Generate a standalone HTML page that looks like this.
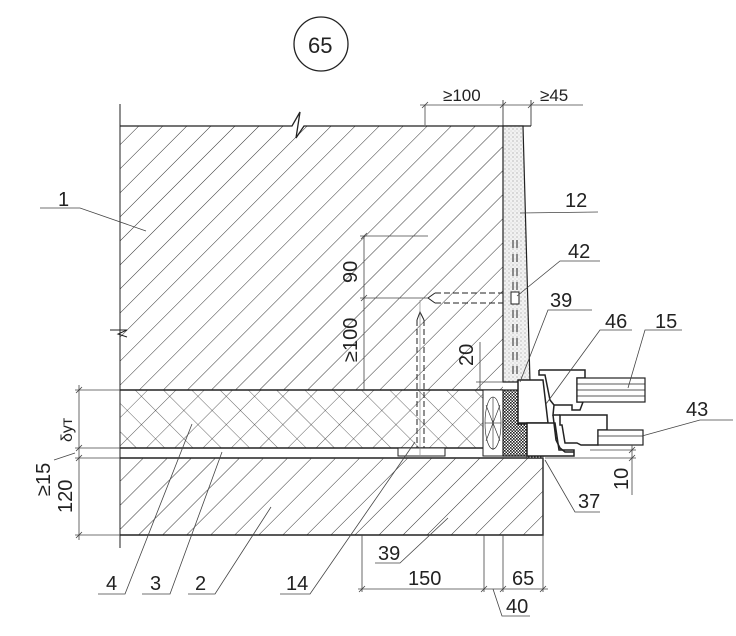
<!DOCTYPE html>
<html><head><meta charset="utf-8"><style>
html,body{margin:0;padding:0;background:#fff}
svg{display:block}
text{font-family:"Liberation Sans",sans-serif;fill:#222}
</style></head><body>
<svg width="736" height="636" viewBox="0 0 736 636" xmlns="http://www.w3.org/2000/svg">
<defs>
<pattern id="h1" width="17" height="17" patternUnits="userSpaceOnUse" patternTransform="rotate(45)">
<line x1="0" y1="0" x2="0" y2="17" stroke="#333" stroke-width="1"/></pattern>
<pattern id="hx" width="20" height="20" patternUnits="userSpaceOnUse" patternTransform="rotate(45)">
<line x1="0" y1="0" x2="0" y2="20" stroke="#333" stroke-width="0.8"/>
<line x1="0" y1="0" x2="20" y2="0" stroke="#333" stroke-width="0.8"/></pattern>
<pattern id="dots" width="4" height="4" patternUnits="userSpaceOnUse">
<rect width="4" height="4" fill="#f2f2f2"/><circle cx="1" cy="1" r="0.6" fill="#999"/><circle cx="3" cy="3" r="0.5" fill="#bbb"/></pattern>
<pattern id="chk" width="3" height="3" patternUnits="userSpaceOnUse">
<rect width="3" height="3" fill="#fff"/><rect width="1.6" height="1.6" fill="#222"/><rect x="1.5" y="1.5" width="1.5" height="1.5" fill="#222"/></pattern>
</defs>
<g stroke="#222" fill="none">
<circle cx="321" cy="44" r="27" stroke-width="1.3"/>
<path d="M120 126 L294 126 L300 115 L297 136 L303 126 L503 126 L503 390 L120 390 Z" fill="url(#h1)" stroke="none"/>
<path d="M120 126 L292 126 L300 112 L296 138 L304 126 L531 126" stroke-width="1.3"/>
<line x1="120" y1="104" x2="120" y2="548" stroke-width="1"/>
<path d="M110 330 L127 330 L118 334 L127 337" stroke-width="1"/>
<path d="M503 126 L523 126 L530 382 L503 382 Z" fill="url(#dots)" stroke-width="1.2"/>
<line x1="531" y1="126" x2="531" y2="100" stroke-width="0.8"/>
<line x1="503" y1="126" x2="503" y2="100" stroke-width="0.8"/>
<path d="M513 240 v8 M513 254 v8 M513 268 v8 M513 282 v8 M513 310 v8 M513 324 v8 M513 338 v8 M513 352 v8 M513 366 v8 M517 240 v8 M517 254 v8 M517 268 v8 M517 282 v8 M517 310 v8 M517 324 v8 M517 338 v8 M517 352 v8 M517 366 v8" stroke-width="1"/>
<rect x="511" y="292" width="8" height="12" fill="#fff" stroke-width="1"/>
<rect x="120" y="390" width="363" height="58" fill="url(#hx)" stroke="none"/>
<line x1="120" y1="390" x2="503" y2="390" stroke-width="1.5"/>
<line x1="120" y1="448" x2="503" y2="448" stroke-width="1.5"/>
<line x1="120" y1="458" x2="543" y2="458" stroke-width="1.5"/>
<rect x="120" y="458" width="423" height="77" fill="url(#h1)" stroke="none"/>
<path d="M120 535 L543 535 L543 458" stroke-width="1.5"/>
<rect x="483" y="390" width="20" height="66" fill="#fff" stroke-width="1"/>
<g stroke-width="0.6"><ellipse cx="493" cy="423" rx="8" ry="26"/><line x1="493" y1="397" x2="493" y2="450"/><line x1="485" y1="423" x2="501" y2="423"/><line x1="486" y1="405" x2="500" y2="441"/><line x1="500" y1="405" x2="486" y2="441"/></g>
<path d="M503 390 L518 390 L518 424 L527 424 L527 456 L503 456 Z" fill="url(#chk)" stroke-width="1.2"/>
<rect x="527" y="450" width="16" height="8" fill="url(#chk)" stroke-width="0.8"/>
<path d="M518 380 L543 380 L548 423 L518 423 Z" fill="#fff" stroke-width="1.5"/>
<path d="M527 423 L555 423 L559 450 L574 450 L574 456 L527 456 Z" fill="#fff" stroke-width="1.5"/>
<path d="M539 370 L585 370 L585 378 L577 378 L577 402 L583 402 L580 410 L572 410 L572 405 L554 405 L553 415 L560 415 M539 370 L539 375 L545 375 L550 400 L554 405" fill="none" stroke-width="1.5"/>
<rect x="577" y="378" width="68" height="24" fill="#fff" stroke-width="1.2"/>
<g stroke-width="0.7"><line x1="577" y1="384" x2="645" y2="384"/><line x1="577" y1="390" x2="645" y2="390"/><line x1="577" y1="396" x2="645" y2="396"/></g>
<path d="M560 415 L607 415 L607 430 L598 430 L598 445 L581 445 L577 443 L565 443 L562 425 L560 425 Z" fill="#fff" stroke-width="1.5"/>
<path d="M553 415 L556 440 L560 448 L565 452 L574 452" stroke-width="1.5"/>
<rect x="598" y="430" width="45" height="15" fill="#fff" stroke-width="1.2"/>
<line x1="598" y1="436" x2="643" y2="436" stroke-width="0.7"/>
<g stroke-width="1" stroke-dasharray="6,3"><line x1="417" y1="320" x2="417" y2="455"/><line x1="424" y1="320" x2="424" y2="455"/>
<line x1="435" y1="293" x2="503" y2="293"/><line x1="435" y1="303" x2="503" y2="303"/></g>
<path d="M417 320 L420 312 L424 320 M435 293 L428 298 L435 303" stroke-width="1"/>
<rect x="398" y="448" width="47" height="8" fill="#fff" stroke-width="1"/>
<line x1="420" y1="300" x2="420" y2="455" stroke-width="0.6" stroke="#777"/>
</g>
<g stroke="#444" stroke-width="0.8" fill="none">
<line x1="420" y1="105" x2="583" y2="105"/>
<path d="M425 105 v20 M422 108 l6 -6 M500 108 l6 -6 M528 108 l6 -6"/>
<line x1="364" y1="236" x2="364" y2="390"/>
<line x1="360" y1="236" x2="428" y2="236"/>
<line x1="360" y1="298" x2="428" y2="298"/>
<path d="M361 239 l6 -6 M361 301 l6 -6"/>
<line x1="480" y1="342" x2="480" y2="390"/>
<line x1="476" y1="382" x2="503" y2="382"/>
<line x1="79" y1="385" x2="79" y2="540"/>
<line x1="75" y1="390" x2="120" y2="390"/>
<line x1="75" y1="448" x2="120" y2="448"/>
<line x1="75" y1="458" x2="120" y2="458"/>
<line x1="75" y1="535" x2="120" y2="535"/>
<path d="M76 393 l6 -6 M76 451 l6 -6 M76 461 l6 -6 M76 538 l6 -6"/>
<path d="M54 460 L75 453"/>
<line x1="358" y1="589" x2="548" y2="589"/>
<path d="M362 535 v57 M484 535 v57 M503 535 v57 M543 458 v134 M359 592 l6 -6 M481 592 l6 -6 M500 592 l6 -6 M540 592 l6 -6"/>
<path d="M493 589 L502 616 L530 616"/>
<line x1="632" y1="445" x2="632" y2="495"/>
<line x1="545" y1="458" x2="636" y2="458"/>
<line x1="590" y1="450" x2="636" y2="450"/>
<path d="M629 453 l6 -6 M629 461 l6 -6"/>
</g>
<g stroke="#444" stroke-width="0.8" fill="none">
<path d="M40 208 L80 208 L146 231"/>
<path d="M598 212 L520 213"/>
<path d="M600 261 L560 261 L517 296"/>
<path d="M592 310 L548 310 L520 382"/>
<path d="M632 330 L600 330 L546 404"/>
<path d="M682 330 L645 330 L628 388"/>
<path d="M733 420 L700 420 L642 436"/>
<path d="M600 512 L575 512 L545 460"/>
<path d="M98 594 L125 594 L192 424"/>
<path d="M142 594 L170 594 L222 452"/>
<path d="M188 594 L215 594 L271 507"/>
<path d="M280 594 L310 594 L415 442"/>
<path d="M375 563 L400 563 L448 518"/>
</g>
<g font-size="20">
<text x="308" y="53" font-size="22">65</text>
<text x="58" y="206">1</text>
<text x="565" y="207">12</text>
<text x="568" y="258">42</text>
<text x="550" y="307">39</text>
<text x="605" y="328">46</text>
<text x="655" y="328">15</text>
<text x="686" y="416">43</text>
<text x="578" y="508">37</text>
<text x="106" y="590">4</text>
<text x="150" y="590">3</text>
<text x="195" y="590">2</text>
<text x="286" y="590">14</text>
<text x="378" y="560">39</text>
<text x="408" y="585">150</text>
<text x="512" y="585">65</text>
<text x="506" y="613">40</text>
<text x="443" y="101" font-size="17">≥100</text>
<text x="540" y="101" font-size="17">≥45</text>
<text transform="translate(357,283) rotate(-90)">90</text>
<text transform="translate(357,362) rotate(-90)">≥100</text>
<text transform="translate(473,366) rotate(-90)">20</text>
<text transform="translate(72,442) rotate(-90)" font-size="16">δут</text>
<text transform="translate(50,496) rotate(-90)">≥15</text>
<text transform="translate(72,513) rotate(-90)">120</text>
<text transform="translate(628,490) rotate(-90)">10</text>
</g>
</svg>
</body></html>
